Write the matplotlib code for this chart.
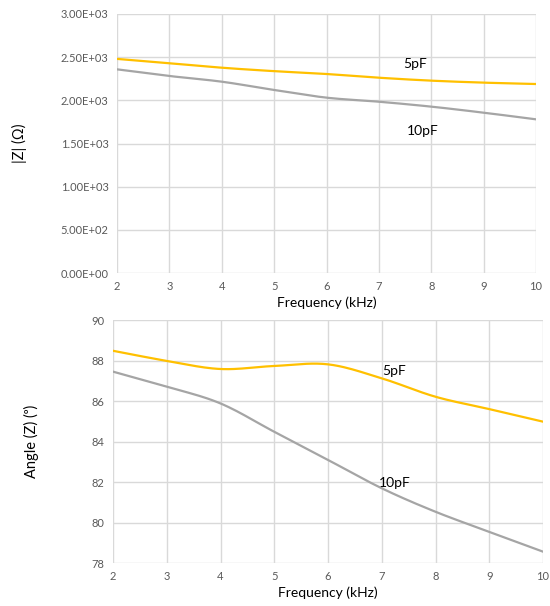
import numpy as np
import matplotlib
matplotlib.use("Agg")
import matplotlib.pyplot as plt

plt.rcParams['font.family'] = ['Lato', 'DejaVu Sans']

freq = [2, 3, 4, 5, 6, 7, 8, 9, 10]
z_5pf = [2480, 2430, 2378, 2338, 2305, 2262, 2228, 2205, 2189]
z_10pf = [2359, 2282, 2216, 2120, 2031, 1984, 1927, 1857, 1780]
ang_5pf = [88.48, 87.98, 87.58, 87.73, 87.81, 87.12, 86.21, 85.60, 84.98]
ang_10pf = [87.45, 86.71, 85.88, 84.48, 83.09, 81.69, 80.53, 79.54, 78.56]
z_ticks = [0, 500, 1000, 1500, 2000, 2500, 3000]
z_ticklabels = ["0.00E+00", "5.00E+02", "1.00E+03", "1.50E+03", "2.00E+03", "2.50E+03", "3.00E+03"]
ang_ticks = [78, 80, 82, 84, 86, 88, 90]

YELLOW = "#FFC000"
GRAY = "#A5A5A5"
GRID = "#D9D9D9"
TICK = "#595959"


def smooth(x, y, n=20):
    # Catmull-Rom rendering of the smoothed line (as in Excel's smooth line)
    x = np.asarray(x, float); y = np.asarray(y, float)
    px = np.concatenate([[2 * x[0] - x[1]], x, [2 * x[-1] - x[-2]]])
    py = np.concatenate([[2 * y[0] - y[1]], y, [2 * y[-1] - y[-2]]])
    xs, ys = [], []
    for i in range(1, len(px) - 2):
        t = np.linspace(0, 1, n, endpoint=False)
        for p, out in ((px, xs), (py, ys)):
            p0, p1, p2, p3 = p[i - 1], p[i], p[i + 1], p[i + 2]
            out.extend(0.5 * ((2 * p1) + (-p0 + p2) * t + (2 * p0 - 5 * p1 + 4 * p2 - p3) * t ** 2
                              + (-p0 + 3 * p1 - 3 * p2 + p3) * t ** 3))
    xs.append(x[-1]); ys.append(y[-1])
    return xs, ys


fig = plt.figure(figsize=(5.5, 6.06), dpi=100)
W, H = 550, 606

def mk(l, t, r, b):
    return fig.add_axes([l / W, 1 - b / H, (r - l) / W, (b - t) / H])

ax1 = mk(117, 14, 536, 273)
ax2 = mk(113, 320, 543, 563)

for ax in (ax1, ax2):
    for s in ax.spines.values():
        s.set_visible(False)
    ax.grid(True, color=GRID, linewidth=1.0)
    ax.set_axisbelow(True)
    ax.tick_params(length=0, colors=TICK, labelsize=8, pad=6)
    ax.set_xlim(2, 10)
    ax.set_xticks(freq)
    ax.set_xlabel("Frequency (kHz)", fontsize=10, color="black", labelpad=3)

ax1.plot(*smooth(freq, z_5pf), color=YELLOW, lw=1.6)
ax1.plot(*smooth(freq, z_10pf), color=GRAY, lw=1.6)
ax1.set_ylim(0, 3000)
ax1.set_yticks(z_ticks)
ax1.set_yticklabels(z_ticklabels)
ax1.set_ylabel("|Z| (Ω)", fontsize=10.5, labelpad=24)
ax1.text(7.47, 2380, "5pF", fontsize=10)
ax1.text(7.53, 1600, "10pF", fontsize=10)

ax2.plot(*smooth(freq, ang_5pf), color=YELLOW, lw=1.6)
ax2.plot(*smooth(freq, ang_10pf), color=GRAY, lw=1.6)
ax2.set_ylim(78, 90)
ax2.set_yticks(ang_ticks)
ax2.set_ylabel("Angle (Z) (ᵒ)", fontsize=10.5, labelpad=38)
ax2.text(7.0, 87.3, "5pF", fontsize=10)
ax2.text(6.95, 81.75, "10pF", fontsize=10)

fig.savefig("out.png", dpi=100)
